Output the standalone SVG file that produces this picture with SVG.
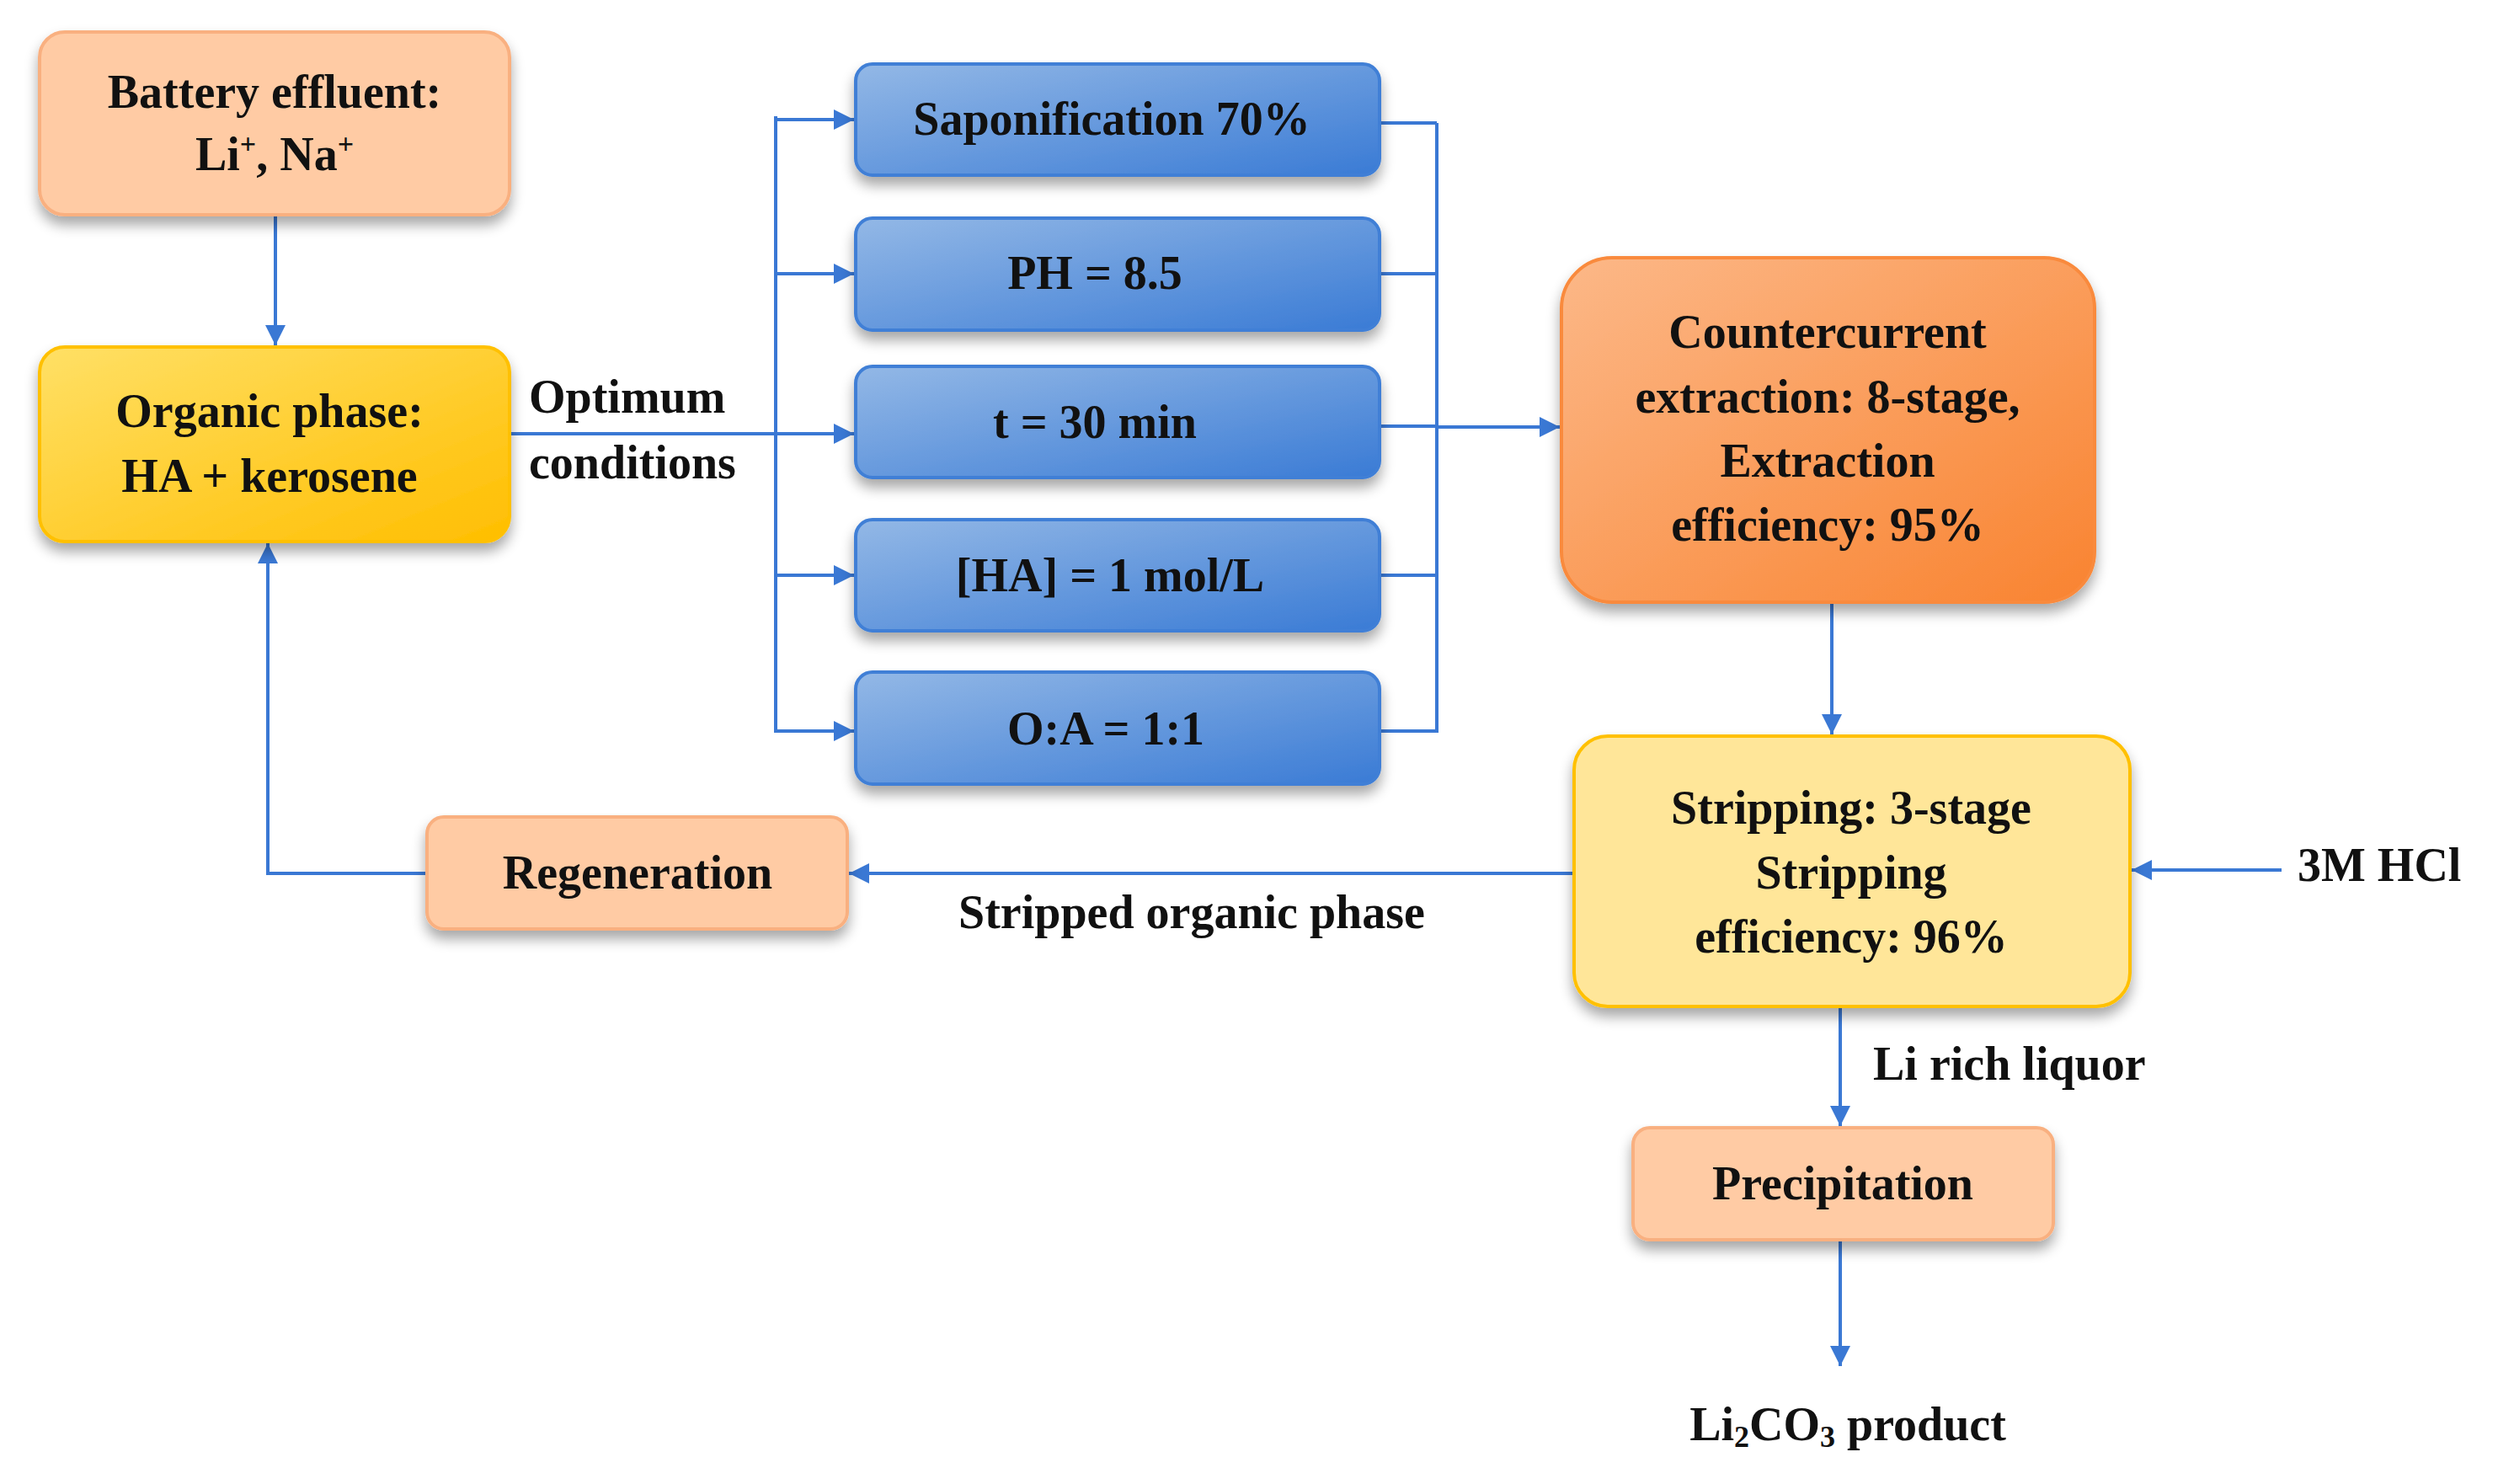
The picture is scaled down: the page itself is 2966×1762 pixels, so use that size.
<svg xmlns="http://www.w3.org/2000/svg" width="2966" height="1762" viewBox="0 0 2966 1762">
<defs>
<linearGradient id="gy" x1="0" y1="0" x2="1" y2="1"><stop offset="0" stop-color="#FFE066"/><stop offset="1" stop-color="#FFBE00"/></linearGradient>
<linearGradient id="gb" x1="0" y1="0" x2="1" y2="1"><stop offset="0" stop-color="#93B8E6"/><stop offset="1" stop-color="#3A7BD5"/></linearGradient>
<linearGradient id="go" x1="0" y1="0" x2="1" y2="1"><stop offset="0" stop-color="#FCB888"/><stop offset="1" stop-color="#F98330"/></linearGradient>
<filter id="sh" x="-10%" y="-10%" width="120%" height="140%"><feGaussianBlur in="SourceAlpha" stdDeviation="8"/><feOffset dy="10"/><feComponentTransfer><feFuncA type="linear" slope="0.35"/></feComponentTransfer><feMerge><feMergeNode/><feMergeNode in="SourceGraphic"/></feMerge></filter>
<marker id="ar" viewBox="0 0 10 10" refX="10" refY="5" markerWidth="6" markerHeight="6" orient="auto-start-reverse" markerUnits="strokeWidth"><path d="M0,0 L10,5 L0,10 z" fill="#3A78D4"/></marker>
</defs>
<style>
text{font-family:"Liberation Serif","Times New Roman",serif;font-weight:bold;font-size:56px;fill:#111;text-anchor:middle}
.peach{fill:#FFCBA4;stroke:#F9B080;stroke-width:4}
.yel{fill:url(#gy);stroke:#FFC000;stroke-width:4}
.blue{fill:url(#gb);stroke:#3F7FD6;stroke-width:4}
.org{fill:url(#go);stroke:#F98A3C;stroke-width:4}
.lyel{fill:#FFE699;stroke:#FFC000;stroke-width:4}
.c{fill:none;stroke:#3A78D4;stroke-width:4}
.a{marker-end:url(#ar)}
.l{text-anchor:start}
</style>
<g id="connectors">
<path class="c a" d="M327,255 V410"/>
<path class="c" d="M605,515 H921"/>
<path class="c" d="M921,138 V870"/>
<path class="c a" d="M921,142 H1014"/>
<path class="c a" d="M921,325 H1014"/>
<path class="c a" d="M921,515 H1014"/>
<path class="c a" d="M921,683 H1014"/>
<path class="c a" d="M921,868 H1014"/>
<path class="c" d="M1638,146 H1706 M1638,325 H1706 M1638,506 H1706 M1638,683 H1706 M1638,868 H1706 M1706,146 V870"/>
<path class="c a" d="M1706,507 H1852"/>
<path class="c a" d="M2175,715 V872"/>
<path class="c a" d="M1869,1037 H1008"/>
<path class="c a" d="M507,1037 H318 V645"/>
<path class="c a" d="M2709,1033 H2531"/>
<path class="c a" d="M2185,1195 V1337"/>
<path class="c a" d="M2185,1472 V1622"/>
</g>
<g id="battery"><rect class="peach" x="47" y="38" width="558" height="217" rx="30" filter="url(#sh)"/><text x="326" y="128">Battery effluent:</text><text x="326" y="202">Li<tspan font-size="34" dy="-20">+</tspan><tspan dy="20">, Na</tspan><tspan font-size="34" dy="-20">+</tspan></text></g>
<g id="organic"><rect class="yel" x="47" y="412" width="558" height="231" rx="30" filter="url(#sh)"/><text x="320" y="507">Organic phase:</text><text x="320" y="584">HA + kerosene</text></g>
<text class="l" x="628" y="490">Optimum</text>
<text class="l" x="628" y="568">conditions</text>
<g id="sap"><rect class="blue" x="1016" y="76" width="622" height="132" rx="20" filter="url(#sh)"/><text x="1320" y="160">Saponification 70%</text></g>
<g id="ph"><rect class="blue" x="1016" y="259" width="622" height="133" rx="20" filter="url(#sh)"/><text x="1300" y="343">PH = 8.5</text></g>
<g id="time"><rect class="blue" x="1016" y="435" width="622" height="132" rx="20" filter="url(#sh)"/><text x="1300" y="520">t = 30 min</text></g>
<g id="ha"><rect class="blue" x="1016" y="617" width="622" height="132" rx="20" filter="url(#sh)"/><text x="1318" y="702">[HA] = 1 mol/L</text></g>
<g id="oa"><rect class="blue" x="1016" y="798" width="622" height="133" rx="20" filter="url(#sh)"/><text x="1313" y="884">O:A = 1:1</text></g>
<g id="counter"><rect class="org" x="1854" y="306" width="633" height="409" rx="60" filter="url(#sh)"/><text x="2170" y="413">Countercurrent</text><text x="2170" y="490">extraction: 8-stage,</text><text x="2170" y="566">Extraction</text><text x="2170" y="642">efficiency: 95%</text></g>
<g id="strip"><rect class="lyel" x="1869" y="874" width="660" height="321" rx="40" filter="url(#sh)"/><text x="2198" y="978">Stripping: 3-stage</text><text x="2198" y="1055">Stripping</text><text x="2198" y="1131">efficiency: 96%</text></g>
<g id="regen"><rect class="peach" x="507" y="970" width="499" height="133" rx="20" filter="url(#sh)"/><text x="757" y="1055">Regeneration</text></g>
<g id="precip"><rect class="peach" x="1939" y="1339" width="499" height="133" rx="20" filter="url(#sh)"/><text x="2188" y="1424">Precipitation</text></g>
<text x="1415" y="1102">Stripped organic phase</text>
<text class="l" x="2728" y="1046">3M HCl</text>
<text class="l" x="2224" y="1282">Li rich liquor</text>
<text x="2194" y="1710">Li<tspan font-size="36" dy="8">2</tspan><tspan dy="-8">CO</tspan><tspan font-size="36" dy="8">3</tspan><tspan dy="-8"> product</tspan></text>
</svg>
